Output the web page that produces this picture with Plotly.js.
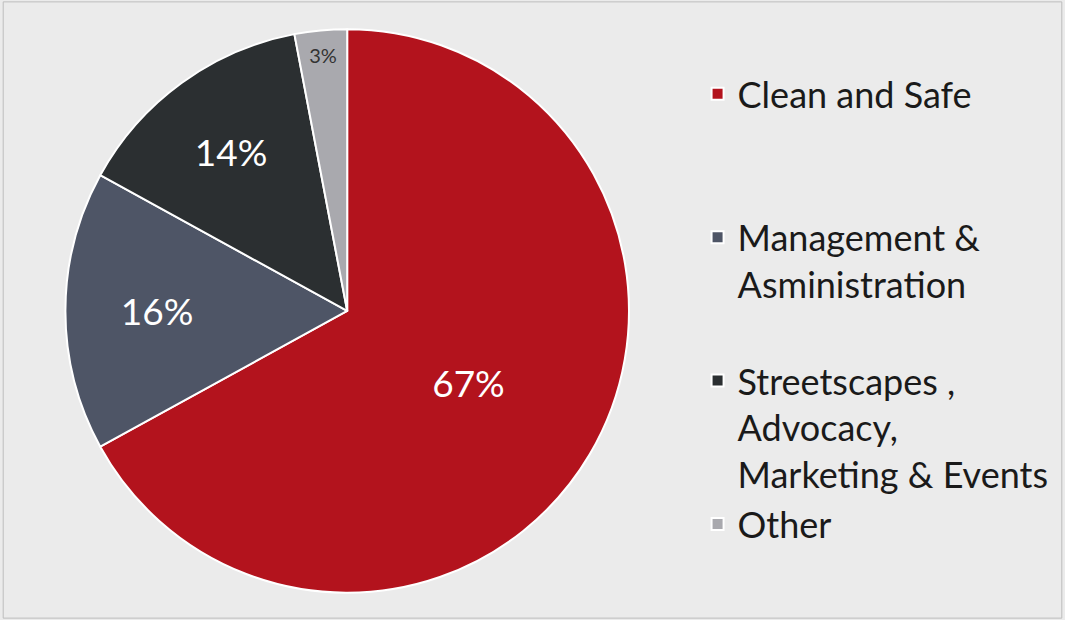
<!DOCTYPE html>
<html><head><meta charset="utf-8">
<script src="https://cdn.plot.ly/plotly-3.0.1.min.js"></script>
<style>html,body{margin:0;padding:0;background:#ebebeb;}#chart{width:1065px;height:620px;}</style>
</head><body><div id="chart"></div>
<script>
const categories = ["Clean and Safe", "Management &<br>Asministration", "Streetscapes ,<br>Advocacy,<br>Marketing & Events", "Other"];
const shares = [67, 16, 14, 3];
const sliceColors = ["#b3131d", "#4e5566", "#2b2f31", "#a9a9ae"];
const labelColors = ["#ffffff", "#ffffff", "#ffffff", "#333333"];
const labelSizes = [37, 37, 37, 20];
// pad legend entries with blank lines so entries sit in equal slots
const legendPad = ["<br> <br> ", "<br> ", "", ""];

const data = [{
  type: "pie",
  values: shares,
  labels: categories.map((c, i) => c + legendPad[i]),
  sort: false,
  direction: "clockwise",
  rotation: 0,
  marker: {colors: sliceColors, line: {color: "#ffffff", width: 2}},
  textinfo: "percent",
  texttemplate: "%{value}%",
  textposition: "inside",
  insidetextorientation: "horizontal",
  textfont: {family: "Lato, 'Open Sans', sans-serif", size: labelSizes, color: labelColors},
  hoverinfo: "label+percent",
  domain: {x: [0.061, 0.591], y: [0.044, 0.953]}
}];

const layout = {
  width: 1065, height: 620,
  margin: {l: 0, r: 0, t: 0, b: 0},
  paper_bgcolor: "#ebebeb",
  plot_bgcolor: "#ebebeb",
  font: {family: "Lato, 'Open Sans', sans-serif", color: "#1a1a1a"},
  showlegend: true,
  legend: {
    x: 0.655, y: 0.897, xanchor: "left", yanchor: "top",
    valign: "top",
    font: {size: 36, color: "#1a1a1a"},
    bgcolor: "rgba(0,0,0,0)",
    itemwidth: 30,
    traceorder: "normal"
  },
  shapes: [{type: "rect", xref: "paper", yref: "paper", x0: 0.003, x1: 0.997, y0: 0.003, y1: 0.997,
            line: {color: "#bdbdbd", width: 1}}]
};

Plotly.newPlot("chart", data, layout, {displayModeBar: false, staticPlot: true});
</script></body></html>
